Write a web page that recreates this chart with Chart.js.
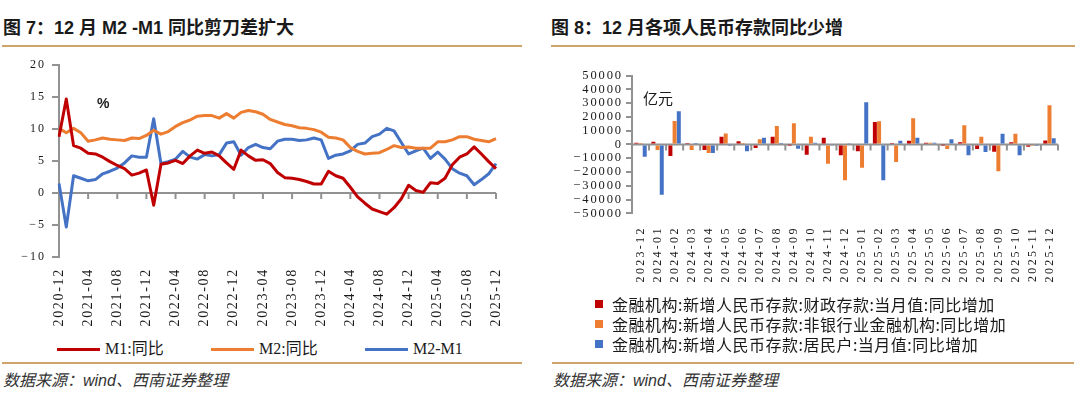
<!DOCTYPE html>
<html lang="zh-CN">
<head>
<meta charset="utf-8">
<title>图7 / 图8</title>
<script src="https://cdn.jsdelivr.net/npm/chart.js@4.4.1/dist/chart.umd.min.js"></script>
<style>
  html, body { margin: 0; padding: 0; background: #fff; }
  #page { position: relative; width: 1080px; height: 397px; overflow: hidden; color: #1a1a1a; }
  .abs { position: absolute; white-space: nowrap; }
  .title { font: bold 18px/22px "Liberation Sans", "Noto Sans CJK SC", sans-serif; top: 17px; }
  .rule { height: 2px; background: #CFA46A; }
  .source { font: italic 16px/20px "Liberation Sans", "Noto Sans CJK SC", sans-serif; color: #333; top: 371px; }
  .lgLine { height: 3px; top: 348px; width: 43px; }
  .lgText { font: 16px/20px "Liberation Serif", "Noto Sans CJK SC", serif; top: 339px; }
  .lgBox { width: 8px; height: 8px; left: 595px; }
  .lgRow { font: 16px/20px "Noto Sans CJK SC", sans-serif; left: 612px; letter-spacing: 0.5px; }
  canvas { position: absolute; }
</style>
</head>
<body>
<div id="page">
  <div class="abs title" style="left:3px;">图 7：12 月 M2 -M1 同比剪刀差扩大</div>
  <div class="abs rule" style="left:2px; top:45px; width:520px;"></div>
  <div class="abs title" style="left:551px;">图 8：12 月各项人民币存款同比少增</div>
  <div class="abs rule" style="left:551px; top:45px; width:524px;"></div>

  <canvas id="spreadChart" width="530" height="285" style="left:0; top:50px;"></canvas>
  <div class="abs" style="left:97px; top:95px; font: bold 14px/16px 'Liberation Sans', sans-serif;">%</div>

  <div class="abs lgLine" style="left:57px; background:#C00000;"></div>
  <div class="abs lgText" style="left:105px;">M1:同比</div>
  <div class="abs lgLine" style="left:211px; background:#ED7D31;"></div>
  <div class="abs lgText" style="left:259px;">M2:同比</div>
  <div class="abs lgLine" style="left:365px; background:#4472C4;"></div>
  <div class="abs lgText" style="left:413px;">M2-M1</div>

  <canvas id="depositChart" width="540" height="245" style="left:540px; top:50px;"></canvas>
  <div class="abs" style="left:643px; top:88px; font: 15px/20px 'Noto Sans CJK SC', sans-serif;">亿元</div>

  <div class="abs lgBox" style="top:300px; background:#C00000;"></div>
  <div class="abs lgRow" style="top:294px;">金融机构:新增人民币存款:财政存款:当月值:同比增加</div>
  <div class="abs lgBox" style="top:320px; background:#ED7D31;"></div>
  <div class="abs lgRow" style="top:314px;">金融机构:新增人民币存款:非银行业金融机构:同比增加</div>
  <div class="abs lgBox" style="top:340px; background:#4472C4;"></div>
  <div class="abs lgRow" style="top:334px;">金融机构:新增人民币存款:居民户:当月值:同比增加</div>

  <div class="abs rule" style="left:2px; top:362px; width:520px;"></div>
  <div class="abs rule" style="left:552px; top:362px; width:522px;"></div>
  <div class="abs source" style="left:3px;">数据来源：wind、西南证券整理</div>
  <div class="abs source" style="left:553px;">数据来源：wind、西南证券整理</div>
</div>

<script>
// 图7: M1 / M2 同比 (%)
const spreadMonths = [
    '2020-12',
    '2021-01', '2021-02', '2021-03', '2021-04', '2021-05', '2021-06', '2021-07', '2021-08', '2021-09', '2021-10', '2021-11', '2021-12',
    '2022-01', '2022-02', '2022-03', '2022-04', '2022-05', '2022-06', '2022-07', '2022-08', '2022-09', '2022-10', '2022-11', '2022-12',
    '2023-01', '2023-02', '2023-03', '2023-04', '2023-05', '2023-06', '2023-07', '2023-08', '2023-09', '2023-10', '2023-11', '2023-12',
    '2024-01', '2024-02', '2024-03', '2024-04', '2024-05', '2024-06', '2024-07', '2024-08', '2024-09', '2024-10', '2024-11', '2024-12',
    '2025-01', '2025-02', '2025-03', '2025-04', '2025-05', '2025-06', '2025-07', '2025-08', '2025-09', '2025-10', '2025-11', '2025-12'
];
const spreadTicks = ['2020-12', '2021-04', '2021-08', '2021-12', '2022-04', '2022-08', '2022-12', '2023-04',
    '2023-08', '2023-12', '2024-04', '2024-08', '2024-12', '2025-04', '2025-08', '2025-12'];

const m1Yoy = [
    8.8,
    14.7, 7.4, 7.0, 6.2, 6.1, 5.6, 4.9, 4.3, 3.8, 2.8, 3.1, 3.6,
    -1.9, 4.5, 4.7, 5.1, 4.6, 5.8, 6.7, 6.2, 6.4, 5.8, 4.7, 3.7,
    6.7, 5.8, 5.1, 5.2, 4.6, 3.2, 2.4, 2.3, 2.1, 1.8, 1.4, 1.4,
    3.4, 2.7, 2.3, 0.9, -0.6, -1.6, -2.5, -2.9, -3.3, -2.3, -0.9, 1.2,
    0.4, 0.1, 1.6, 1.5, 2.3, 4.4, 5.6, 6.1, 7.2, 6.1, 4.9, 3.8
];
const m2Yoy = [
    10.1,
    9.4, 10.1, 9.4, 8.1, 8.3, 8.6, 8.4, 8.3, 8.2, 8.6, 8.5, 9.0,
    9.8, 9.2, 9.6, 10.4, 11.0, 11.4, 12.0, 12.1, 12.1, 11.7, 12.4, 11.7,
    12.6, 12.9, 12.7, 12.3, 11.5, 11.1, 10.7, 10.5, 10.2, 10.1, 9.9, 9.5,
    8.7, 8.6, 8.3, 7.1, 6.5, 6.1, 6.2, 6.3, 6.8, 7.4, 7.1, 7.2,
    7.0, 7.0, 7.0, 8.0, 8.0, 8.3, 8.8, 8.8, 8.4, 8.2, 8.0, 8.5
];
const m2m1Gap = [
    1.5,
    -5.3, 2.7, 2.3, 1.9, 2.1, 3.0, 3.4, 3.9, 4.7, 5.8, 5.6, 5.6,
    11.6, 4.6, 4.9, 5.3, 6.5, 5.6, 5.3, 6.0, 5.8, 6.0, 7.8, 8.0,
    5.9, 7.1, 7.6, 7.1, 6.9, 8.1, 8.4, 8.4, 8.2, 8.3, 8.6, 8.3,
    5.4, 5.9, 6.1, 6.6, 7.6, 7.8, 8.8, 9.2, 10.1, 9.7, 7.9, 6.1,
    6.6, 7.0, 5.4, 6.4, 5.3, 3.8, 3.1, 2.7, 1.3, 2.1, 3.0, 4.6
];

// 图8: 新增人民币存款同比增加 (亿元)
const depositMonths = ['2023-12', '2024-01', '2024-02', '2024-03', '2024-04', '2024-05', '2024-06', '2024-07',
    '2024-08', '2024-09', '2024-10', '2024-11', '2024-12', '2025-01', '2025-02', '2025-03', '2025-04',
    '2025-05', '2025-06', '2025-07', '2025-08', '2025-09', '2025-10', '2025-11', '2025-12'];
const fiscalDep = [1200, 2000, -8500, 200, -4100, 5600, 2200, -2700, 5600, -300, -7600, 4900, -7800,
    -4900, 16300, 300, 2700, 1200, -200, 1500, -3400, -5400, 1500, -1700, 2900];
const nonbankDep = [300, -4100, 17000, -4100, -6300, 8000, 1000, 3700, 13400, 15400, 5600, -14100, -26100,
    -17000, 16800, -12700, 19000, 1200, -3400, 13900, 5600, -19500, 7800, -400, 28500];
const householdDep = [-9000, -36600, 24100, 300, -6300, -1200, -4900, 4900, 200, -3200, 1200, -1000, 800,
    30500, -26100, 2700, 4900, 1200, 3700, -7800, -5600, 7800, -7800, -1200, 4400];

const RED = '#C00000';
const ORANGE = '#ED7D31';
const BLUE = '#4472C4';
const AXIS = '#929292';
const INK = '#1a1a1a';
const SERIF = "'Liberation Serif', 'Noto Sans CJK SC', serif";

// Excel-style spaced tick labels
function labelSpacing(map) {
    return {
        id: 'labelSpacing',
        beforeDraw(chart) {
            Object.entries(map).forEach(([id, ls]) => {
                const scale = chart.scales[id];
                if (!scale || scale._spaced) return;
                const draw = scale.drawLabels;
                scale.drawLabels = function (area) {
                    this.ctx.save();
                    this.ctx.letterSpacing = ls;
                    draw.call(this, area);
                    this.ctx.restore();
                };
                scale._spaced = true;
            });
        }
    };
}

// horizontal axis line at 0 with tick marks hanging below
function zeroAxis(tickPixels) {
    return {
        id: 'zeroAxis',
        beforeDatasetsDraw(chart) {
            const { ctx, chartArea, scales: { x, y } } = chart;
            const y0 = y.getPixelForValue(0);
            ctx.save();
            ctx.strokeStyle = AXIS;
            ctx.lineWidth = 2;
            ctx.beginPath();
            ctx.moveTo(chartArea.left, y0);
            ctx.lineTo(chartArea.right, y0);
            tickPixels(x).forEach(px => {
                ctx.moveTo(px, y0);
                ctx.lineTo(px, y0 + 6);
            });
            ctx.stroke();
            ctx.restore();
        }
    };
}

const minusSign = v => String(v).replace('-', '\u2212');

new Chart(document.getElementById('spreadChart'), {
    type: 'line',
    data: {
        labels: spreadMonths,
        datasets: [
            { label: 'M1:同比', data: m1Yoy, borderColor: RED, borderWidth: 3 },
            { label: 'M2:同比', data: m2Yoy, borderColor: ORANGE, borderWidth: 3 },
            { label: 'M2-M1', data: m2m1Gap, borderColor: BLUE, borderWidth: 3 }
        ]
    },
    options: {
        responsive: false,
        animation: false,
        devicePixelRatio: 1,
        layout: { padding: { top: 15, right: 34, left: 0, bottom: 0 } },
        elements: {
            point: { radius: 0 },
            line: { tension: 0, borderJoinStyle: 'round' }
        },
        plugins: {
            legend: { display: false },
            tooltip: { enabled: false }
        },
        scales: {
            x: {
                grid: { display: false, drawTicks: false },
                border: { display: false },
                afterFit: s => { s.height = 78; },
                ticks: {
                    autoSkip: false,
                    minRotation: 90,
                    maxRotation: 90,
                    padding: 11,
                    color: INK,
                    font: { family: SERIF, size: 14 },
                    callback(value) {
                        const m = this.getLabelForValue(value);
                        return spreadTicks.includes(m) ? m : '';
                    }
                }
            },
            y: {
                min: -10,
                max: 20,
                afterFit: s => { s.width = 59; },
                grid: { drawOnChartArea: false, color: AXIS, lineWidth: 2, tickLength: 7 },
                border: { color: AXIS, width: 2 },
                ticks: {
                    stepSize: 5,
                    autoSkip: false,
                    padding: 6,
                    color: INK,
                    font: { family: SERIF, size: 12 },
                    callback: minusSign
                }
            }
        }
    },
    plugins: [
        labelSpacing({ x: '1.7px', y: '2px' }),
        zeroAxis(x => spreadTicks.map(m => x.getPixelForValue(spreadMonths.indexOf(m))))
    ]
});

new Chart(document.getElementById('depositChart'), {
    type: 'bar',
    data: {
        labels: depositMonths,
        datasets: [
            { label: '金融机构:新增人民币存款:财政存款:当月值:同比增加', data: fiscalDep, backgroundColor: RED },
            { label: '金融机构:新增人民币存款:非银行业金融机构:同比增加', data: nonbankDep, backgroundColor: ORANGE },
            { label: '金融机构:新增人民币存款:居民户:当月值:同比增加', data: householdDep, backgroundColor: BLUE }
        ]
    },
    options: {
        responsive: false,
        animation: false,
        devicePixelRatio: 1,
        datasets: { bar: { categoryPercentage: 0.74, barPercentage: 0.95 } },
        layout: { padding: { top: 25.5, right: 22, left: 0, bottom: 0 } },
        plugins: {
            legend: { display: false },
            tooltip: { enabled: false }
        },
        scales: {
            x: {
                grid: { display: false, drawTicks: false },
                border: { display: false },
                afterFit: s => { s.height = 81.7; },
                ticks: {
                    autoSkip: false,
                    minRotation: 90,
                    maxRotation: 90,
                    padding: 13,
                    color: INK,
                    font: { family: SERIF, size: 12 }
                }
            },
            y: {
                min: -50000,
                max: 50000,
                afterFit: s => { s.width = 92; },
                grid: { drawOnChartArea: false, color: AXIS, lineWidth: 2, tickLength: 6 },
                border: { color: AXIS, width: 2 },
                ticks: {
                    stepSize: 10000,
                    autoSkip: false,
                    padding: 3,
                    color: INK,
                    font: { family: SERIF, size: 12.5, lineHeight: 1 },
                    callback: minusSign
                }
            }
        }
    },
    plugins: [
        labelSpacing({ x: '2.3px', y: '1.9px' }),
        zeroAxis(x => Array.from({ length: depositMonths.length + 1 }, (_, k) => x.getPixelForValue(k - 0.5)))
    ]
});
</script>
</body>
</html>
